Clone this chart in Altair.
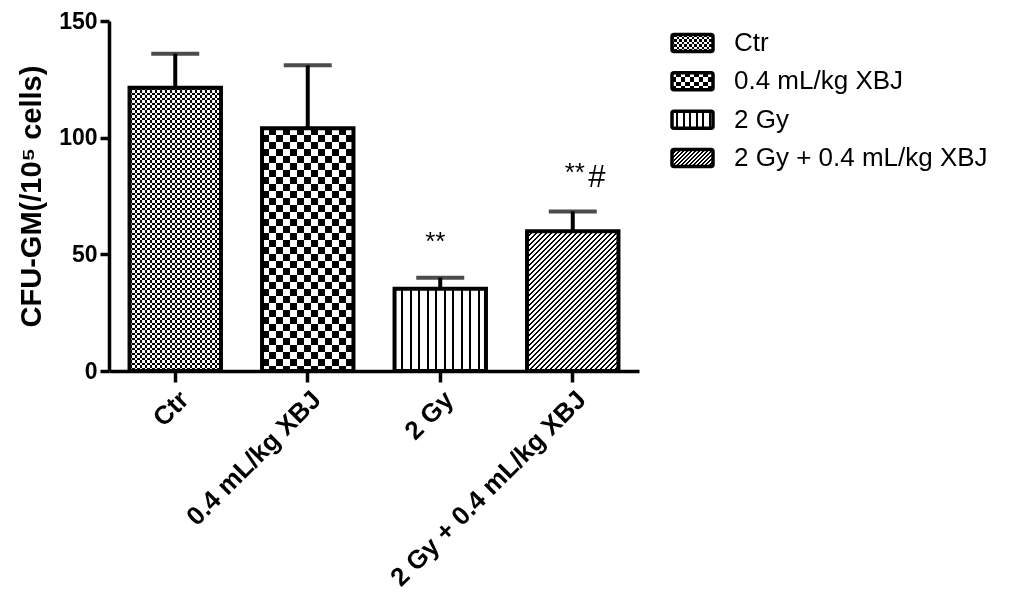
import altair as alt
import pandas as pd

# ---- data ----
categories = ["Ctr", "0.4 mL/kg XBJ", "2 Gy", "2 Gy + 0.4 mL/kg XBJ"]
means = [121.4, 104.0, 35.3, 59.9]
errors = [14.6, 27.0, 4.7, 8.5]
ann_groups = ["2 Gy", "2 Gy + 0.4 mL/kg XBJ", "2 Gy + 0.4 mL/kg XBJ"]
ann_texts = ["**", "**", "#"]
ann_y = [52.0, 81.5, 79.0]

# ---- style ----
FONT = "Liberation Sans"
PLOT_W, PLOT_H = 530, 350
BAR_W = PLOT_W / 4 * 0.69
patterns = [("check", 2.5), ("check", 7.0), ("vstripe", 8.5), ("hatch", 5.0)]
legend_patterns = [("check", 2.5), ("check", 4.5), ("vstripe", 6.5), ("hatch", 4.0)]
ann_dx = [-5, 2, 24]
ann_size = [26, 26, 31]

df = pd.DataFrame({"group": categories, "mean": means,
                   "upper": [m + e for m, e in zip(means, errors)]})
df_ann = pd.DataFrame({"group": ann_groups, "text": ann_texts, "y": ann_y})


def stripe_stops(n, on_frac, c_on, c_off):
    stops = []
    i = 0
    while i < n:
        a = i / n
        b = min((i + on_frac) / n, 1.0)
        c = min((i + 1) / n, 1.0)
        stops += [alt.GradientStop(offset=a, color=c_on),
                  alt.GradientStop(offset=b, color=c_on),
                  alt.GradientStop(offset=b, color=c_off),
                  alt.GradientStop(offset=c, color=c_off)]
        i += 1
    return stops


def pattern_fills(kind, p, W, H):
    """Return list of (gradient, blend) fills for a pattern."""
    if kind == "check":
        g1 = alt.Gradient(gradient="linear", x1=0, y1=0, x2=1, y2=0,
                          stops=stripe_stops(W / (2 * p), 0.5, "black", "white"))
        g2 = alt.Gradient(gradient="linear", x1=0, y1=0, x2=0, y2=1,
                          stops=stripe_stops(H / (2 * p), 0.5, "white", "rgba(255,255,255,0)"))
        return [(g1, None), (g2, "difference")]
    if kind == "vstripe":
        g = alt.Gradient(gradient="linear", x1=0, y1=0, x2=1, y2=0,
                         stops=stripe_stops(W / p, 1 - 2.0 / p, "white", "black"))
        return [(g, None)]
    # hatch
    k = (W + H) / (W * W + H * H)
    g = alt.Gradient(gradient="linear", x1=0, y1=0, x2=k * W, y2=k * H,
                     stops=stripe_stops((W + H) / p, 0.5, "black", "white"))
    return [(g, None)]


x_axis = alt.Axis(title=None, labelAngle=-45, labelFontSize=26, labelFontWeight="bold",
                  labelFont=FONT, labelColor="black", tickSize=11, tickWidth=3.5,
                  tickColor="black", domainColor="black", domainWidth=3.5, labelPadding=4,
                  labelLimit=500)
y_axis = alt.Axis(title="CFU-GM(/10⁵ cells)", values=[0, 50, 100, 150], grid=False,
                  labelFontSize=23, labelFontWeight="bold", labelFont=FONT, labelColor="black",
                  titleFontSize=29, titleFontWeight="bold", titleFont=FONT, titleColor="black",
                  tickSize=9, tickWidth=3.5, tickColor="black", domainColor="black",
                  domainWidth=3.5, labelPadding=3, titlePadding=12)
x_scale = alt.Scale(domain=categories, paddingInner=0.31, paddingOuter=0.155)
y_scale = alt.Scale(domain=[0, 150], nice=False)


def X():
    return alt.X("group:N", sort=categories, scale=x_scale, axis=x_axis)


def Y(field):
    return alt.Y(field, scale=y_scale, axis=y_axis)


base = alt.Chart(df)
layers = []
for cat, m, (kind, p) in zip(categories, means, patterns):
    H = m / 150 * PLOT_H
    for grad, blend in pattern_fills(kind, p, BAR_W, H):
        kw = dict(fill=grad, strokeWidth=0)
        if blend:
            kw["blend"] = blend
        layers.append(base.transform_filter(alt.datum.group == cat)
                      .mark_bar(**kw).encode(x=X(), y=Y("mean:Q")))

layers.append(base.mark_bar(fillOpacity=0, stroke="black", strokeWidth=4)
              .encode(x=X(), y=Y("mean:Q")))
layers.append(base.mark_rule(color="black", strokeWidth=4)
              .encode(x=X(), y=Y("mean:Q"), y2="upper:Q"))
layers.append(base.mark_tick(color="black", thickness=4, size=48)
              .encode(x=X(), y=Y("upper:Q")))

for i in range(len(ann_texts)):
    layers.append(alt.Chart(df_ann.iloc[[i]])
                  .mark_text(font=FONT, fontSize=ann_size[i], color="black",
                             baseline="alphabetic", dx=ann_dx[i])
                  .encode(x=X(), y=Y("y:Q"), text="text:N"))

main = alt.layer(*layers).properties(width=PLOT_W, height=PLOT_H)

# ---- legend as its own panel ----
LEG_W, LEG_H = 41, 17
ly = alt.Y("group:N", sort=categories, axis=None,
           scale=alt.Scale(domain=categories, paddingInner=0, paddingOuter=0.07))
leg_layers = []
for cat, (kind, p) in zip(categories, legend_patterns):
    for grad, blend in pattern_fills(kind, p, LEG_W, LEG_H):
        kw = dict(fill=grad, strokeWidth=0, height=LEG_H)
        if blend:
            kw["blend"] = blend
        leg_layers.append(base.transform_filter(alt.datum.group == cat)
                          .mark_bar(**kw)
                          .encode(y=ly, x=alt.value(0), x2=alt.value(LEG_W)))
leg_layers.append(base.mark_bar(fillOpacity=0, stroke="black", strokeWidth=3.5,
                                cornerRadius=2, height=LEG_H)
                  .encode(y=ly, x=alt.value(0), x2=alt.value(LEG_W)))
leg_layers.append(base.mark_text(font=FONT, fontSize=26, color="black",
                                 align="left", baseline="middle")
                  .encode(y=ly, x=alt.value(62), text="group:N"))
legend = alt.layer(*leg_layers).properties(width=300, height=159)

chart = (alt.hconcat(main, legend, spacing=31)
         .properties(padding={"left": 9, "top": 2, "right": 0, "bottom": 0})
         .configure_view(strokeWidth=0))

chart.save("out.html", embed_options={"renderer": "svg", "actions": False})
